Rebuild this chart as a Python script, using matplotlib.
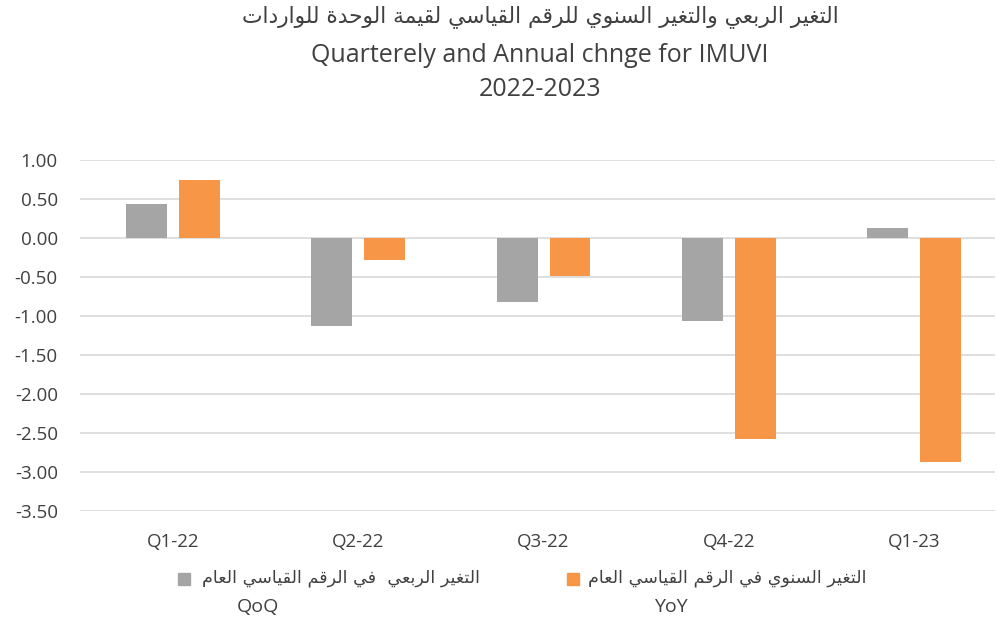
import numpy as np
import matplotlib.pyplot as plt
from matplotlib.patches import Rectangle

# data
quarters = ["Q1-22", "Q2-22", "Q3-22", "Q4-22", "Q1-23"]
qoq = [0.43, -1.13, -0.82, -1.06, 0.13]
yoy = [0.74, -0.28, -0.49, -2.58, -2.87]
yticks = [1.0, 0.5, 0.0, -0.5, -1.0, -1.5, -2.0, -2.5, -3.0, -3.5]

title_ar = "التغير الربعي والتغير السنوي للرقم القياسي لقيمة الوحدة للواردات"
title_en = "Quarterely and Annual chnge for IMUVI"
title_years = "2022-2023"
label_qoq_ar = "التغير الربعي  في الرقم القياسي العام"
label_yoy_ar = "التغير السنوي في الرقم القياسي العام"

# matplotlib has no arabic shaping, so pick presentation forms by hand
# (base codepoint of the isolated form, joins to the following letter)
AR_FORMS = {
    'ا': (0xFE8D, False), 'ب': (0xFE8F, True), 'ة': (0xFE93, False),
    'ت': (0xFE95, True), 'ح': (0xFEA1, True), 'د': (0xFEA9, False),
    'ر': (0xFEAD, False), 'س': (0xFEB1, True), 'ع': (0xFEC9, True),
    'غ': (0xFECD, True), 'ف': (0xFED1, True), 'ق': (0xFED5, True),
    'ل': (0xFEDD, True), 'م': (0xFEE1, True), 'ن': (0xFEE5, True),
    'ه': (0xFEE9, True), 'و': (0xFEED, False), 'ي': (0xFEF1, True),
}


def shape(s):
    out = []
    for i, c in enumerate(s):
        if c not in AR_FORMS:
            out.append(c)
            continue
        base, dual = AR_FORMS[c]
        prev = s[i - 1] if i > 0 else ''
        nxt = s[i + 1] if i + 1 < len(s) else ''
        jp = prev in AR_FORMS and AR_FORMS[prev][1]
        jn = dual and nxt in AR_FORMS
        out.append(chr(base + (1 if jp else 0) + (2 if jn else 0)))
    return ''.join(reversed(out))


plt.rcParams['font.family'] = ['Open Sans', 'DejaVu Sans']
txt = '#404040'
grey = '#a5a5a5'
orange = '#f79646'

W, H = 997, 624
fig = plt.figure(figsize=(W / 100, H / 100), dpi=100)
ax = fig.add_axes([80 / W, 1 - 511 / H, (995 - 80) / W, (511 - 160) / H])

x = np.arange(len(quarters))
bw = 0.221
off = 0.143
ax.bar(x - off, qoq, bw, color=grey, zorder=3)
ax.bar(x + off, yoy, bw, color=orange, zorder=3)

ax.set_xlim(-0.502, 4.437)
ax.set_ylim(-3.5, 1.0)
ax.set_yticks(yticks)
ax.set_yticklabels([f"{v:.2f}" for v in yticks])
ax.set_xticks(x)
ax.set_xticklabels(quarters)
ax.tick_params(length=0, labelsize=13.5, labelcolor=txt)
ax.tick_params(axis='x', pad=16)
ax.tick_params(axis='y', pad=16)
ax.grid(axis='y', color='#d9d9d9', linewidth=1.2, zorder=0)
ax.set_axisbelow(True)
for sp in ax.spines.values():
    sp.set_visible(False)

# titles
cx = 540 / W
fig.text(cx, 1 - 17 / H, shape(title_ar), ha='center', va='center',
         fontsize=15.7, color=txt, family=['DejaVu Sans'])
fig.text(cx, 1 - 55 / H, title_en, ha='center', va='center', fontsize=18, color=txt)
fig.text(cx, 1 - 89 / H, title_years, ha='center', va='center', fontsize=18, color=txt)

# legend drawn by hand to follow the right-to-left layout
fig.add_artist(Rectangle((178 / W, 1 - 585 / H), 12 / W, 12 / H,
                         transform=fig.transFigure, color=grey))
fig.text(480 / W, 1 - 578 / H, shape(label_qoq_ar), ha='right', va='center',
         fontsize=12.6, color=txt, family=['DejaVu Sans'])
fig.text(258 / W, 1 - 607 / H, "QoQ", ha='center', va='center', fontsize=14, color=txt)

fig.add_artist(Rectangle((567 / W, 1 - 585 / H), 12 / W, 12 / H,
                         transform=fig.transFigure, color=orange))
fig.text(866 / W, 1 - 578 / H, shape(label_yoy_ar), ha='right', va='center',
         fontsize=12.6, color=txt, family=['DejaVu Sans'])
fig.text(671 / W, 1 - 607 / H, "YoY", ha='center', va='center', fontsize=14, color=txt)

fig.savefig("out.png", dpi=100)
